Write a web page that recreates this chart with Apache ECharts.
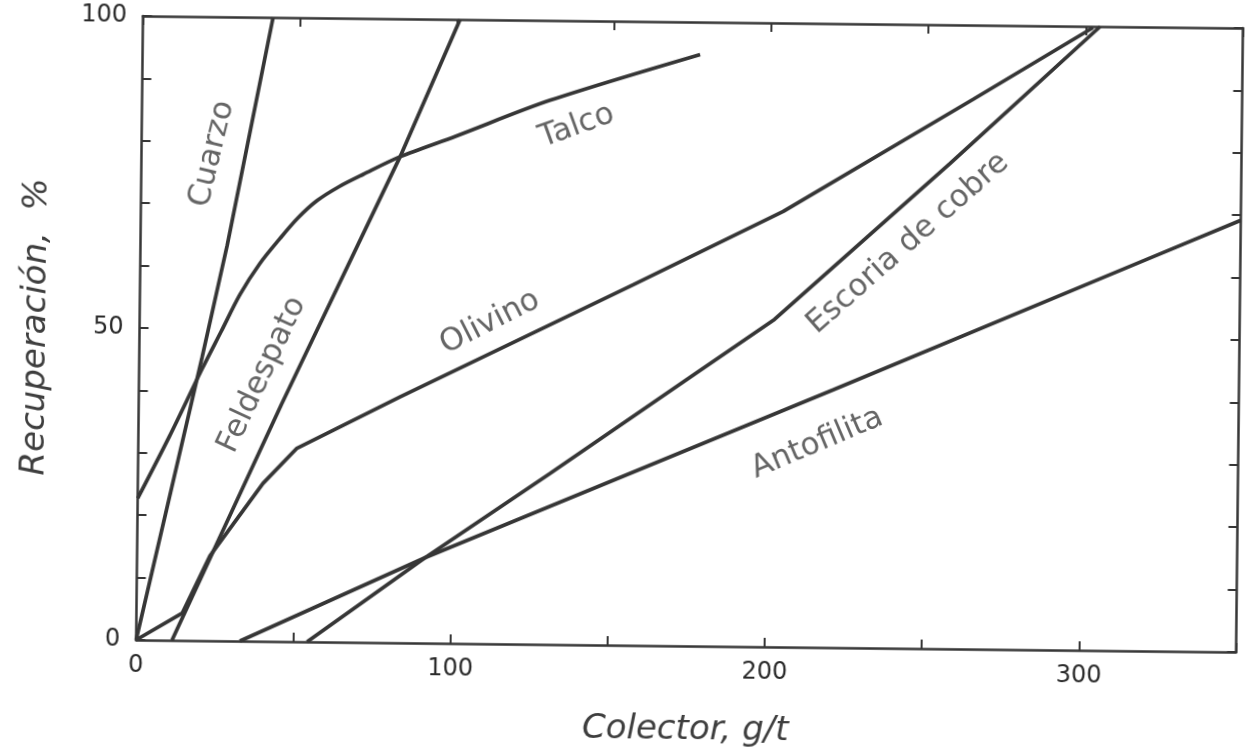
<!DOCTYPE html>
<html>
<head>
<meta charset="utf-8">
<script src="https://cdn.jsdelivr.net/npm/echarts@6/dist/echarts.min.js"></script>
<style>
  html, body { margin: 0; padding: 0; background: #fff; overflow: hidden; }
  #chart { width: 1245px; height: 752px; transform: rotate(0.63deg); transform-origin: 689.5px 336.5px; }
</style>
</head>
<body>
<div id="chart"></div>
<script>
// Recovery (%) versus collector dosage (g/t) for each mineral
const cuarzo     = [[0, 0], [20, 45.4], [27.6, 63.4], [41.4, 100]];
const feldespato = [[11.4, 0], [45.5, 38.1], [82.3, 77.9], [100.9, 100]];
const talco      = [[0, 22.7], [10, 32.8], [20, 43.5], [26, 49.6], [31.8, 55.5], [38, 60.5],
                    [44.4, 64.6], [50, 67.9], [56, 70.7], [63, 73], [70.6, 75], [82.3, 77.9],
                    [100, 81.3], [129.8, 87.2], [177.4, 94.8]];
const olivino    = [[0, 0], [14.6, 4.4], [23.2, 13.6], [39.8, 25.3], [50.5, 31], [83.1, 39.4],
                    [156.9, 57.8], [204.4, 69.8], [264.4, 88.1], [302.3, 99.8]];
const escoria    = [[54.4, 0], [91.7, 13.7], [131.1, 27.4], [178.5, 44.2], [202, 52.5],
                    [257.3, 77.8], [304.6, 100]];
const antofilita = [[33, 0], [91.7, 13.7], [220.9, 41.3], [321.3, 63], [350, 69.2]];

const curveNames = ['Cuarzo', 'Feldespato', 'Talco', 'Olivino', 'Escoria de cobre', 'Antofilita'];
const curveData  = [cuarzo, feldespato, talco, olivino, escoria, antofilita];

// Tick labels shown on the axes
const xTickLabels = [0, 100, 200, 300];
const yTickLabels = [0, 50, 100];

// Where each curve's name is written (data units) and its slant in degrees
const nameAnchors = [[22.5, 78], [39.2, 42.7], [138.4, 83.1], [111.5, 51.5], [244.2, 64.9], [216, 32.7]];
const nameAngles  = [77, 65.5, 20.5, 27.5, 42, 23.5];

const INK = '#363636';
const TEXT = '#3e3e3e';
const FONT = 'DejaVu Sans';

const chart = echarts.init(document.getElementById('chart'), null, { renderer: 'canvas' });

const axisLine = { show: true, onZero: false, lineStyle: { color: INK, width: 2.5 } };
const tick = { show: true, inside: true, length: 9, lineStyle: { color: INK, width: 2 } };

const lineSeries = curveData.map((d, i) => ({
  type: 'line',
  name: curveNames[i],
  data: d,
  xAxisIndex: 0,
  yAxisIndex: 0,
  symbol: 'none',
  smooth: curveNames[i] === 'Talco' ? 0.3 : false,
  lineStyle: { color: INK, width: 3.7 },
  z: 3,
  silent: true
}));

const nameSeries = {
  type: 'scatter',
  xAxisIndex: 0,
  yAxisIndex: 0,
  symbolSize: 0,
  silent: true,
  z: 4,
  data: curveNames.map((n, i) => ({
    name: n,
    value: nameAnchors[i],
    label: { rotate: nameAngles[i] }
  })),
  label: {
    show: true,
    position: 'inside',
    formatter: p => p.name,
    color: TEXT,
    fontFamily: FONT,
    fontSize: 31,
    align: 'center',
    verticalAlign: 'middle'
  }
};

chart.setOption({
  backgroundColor: '#fff',
  animation: false,
  grid: { left: 139.5, right: 5.5, top: 22, bottom: 101 },
  xAxis: [
    {
      type: 'value', position: 'bottom', min: 0, max: 350, interval: 50,
      axisLine, axisTick: tick, splitLine: { show: false },
      axisLabel: {
        margin: 14, color: '#2a2a2a', fontFamily: FONT, fontSize: 24,
        formatter: v => (xTickLabels.includes(v) ? String(v) : '')
      },
      name: 'Colector, g/t', nameLocation: 'middle', nameGap: 67,
      nameTextStyle: { color: TEXT, fontFamily: FONT, fontSize: 34, fontStyle: 'italic' }
    },
    {
      type: 'value', position: 'top', min: 0, max: 350, interval: 50,
      axisLine, axisTick: tick, splitLine: { show: false }, axisLabel: { show: false }
    }
  ],
  yAxis: [
    {
      type: 'value', position: 'left', min: 0, max: 100, interval: 10,
      axisLine, axisTick: tick, splitLine: { show: false },
      axisLabel: {
        margin: 16, color: '#2a2a2a', fontFamily: FONT, fontSize: 24,
        formatter: v => (yTickLabels.includes(v) ? String(v) : '')
      },
      name: 'Recuperación,  %', nameLocation: 'middle', nameGap: 86, nameRotate: 90,
      nameTextStyle: { color: TEXT, fontFamily: FONT, fontSize: 34, fontStyle: 'italic' }
    },
    {
      type: 'value', position: 'right', min: 0, max: 100, interval: 10,
      axisLine, axisTick: tick, splitLine: { show: false }, axisLabel: { show: false }
    }
  ],
  series: [...lineSeries, nameSeries]
});
</script>
</body>
</html>
